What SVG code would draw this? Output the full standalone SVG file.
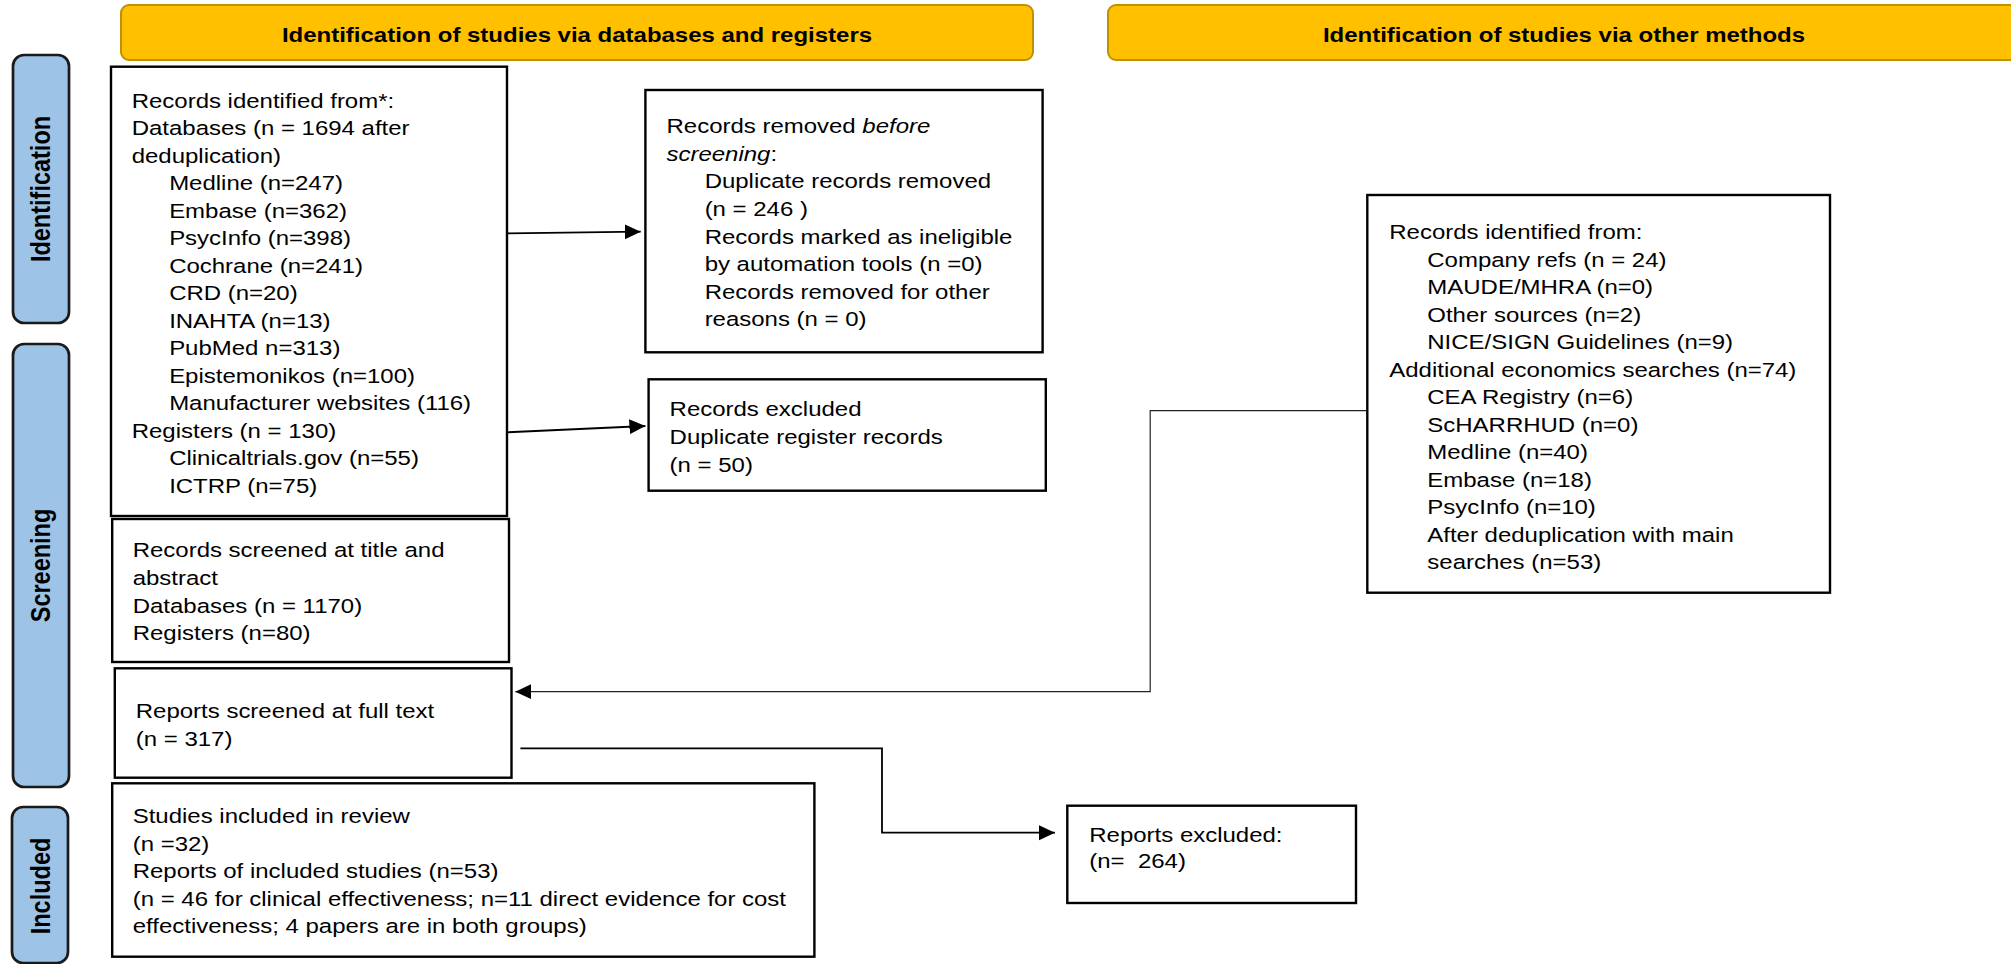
<svg xmlns="http://www.w3.org/2000/svg" width="2011" height="964" viewBox="0 0 2011 964">
<style>
.box{fill:#fff;stroke:#000;stroke-width:2.4}
.hdr{fill:#FFC000;stroke:#BF9000;stroke-width:2}
.pill{fill:#9DC3E6;stroke:#1a1a1a;stroke-width:2.7}
.t{font-family:"Liberation Sans",Arial,sans-serif;font-size:20.5px;fill:#000}
.ht{font-family:"Liberation Sans",Arial,sans-serif;font-size:20.5px;font-weight:bold;fill:#000;text-anchor:middle}
.pt{font-family:"Liberation Sans",Arial,sans-serif;font-size:23.5px;font-weight:bold;fill:#000;text-anchor:middle}
.c{fill:none;stroke:#000;stroke-width:1.8}
.ct{fill:none;stroke:#222;stroke-width:1.2}
</style>
<defs>
<marker id="ah" markerWidth="16" markerHeight="16" refX="16" refY="8" orient="auto" markerUnits="userSpaceOnUse">
<path d="M0,0.5 L16,8 L0,15.5 z" fill="#000"/>
</marker>
</defs>

<g id="header-databases">
<rect class="hdr" x="121" y="5" width="912" height="55" rx="8"/>
<text class="ht" transform="translate(577,41.5) scale(1.17,1)">Identification of studies via databases and registers</text>
</g>
<g id="header-other">
<rect class="hdr" x="1108" y="5" width="912" height="55" rx="8"/>
<text class="ht" transform="translate(1564,41.5) scale(1.17,1)">Identification of studies via other methods</text>
</g>

<g id="phase-identification">
<rect class="pill" x="13" y="55" width="56" height="268" rx="11"/>
<text class="pt" transform="translate(50,189) rotate(-90) scale(1,1.15)">Identification</text>
</g>
<g id="phase-screening">
<rect class="pill" x="13" y="344" width="56" height="443" rx="11"/>
<text class="pt" transform="translate(50,565.5) rotate(-90) scale(1,1.15)">Screening</text>
</g>
<g id="phase-included">
<rect class="pill" x="12" y="807" width="56" height="156" rx="11"/>
<text class="pt" transform="translate(50,886) rotate(-90) scale(1,1.15)">Included</text>
</g>

<g id="records-identified-db">
<rect class="box" x="111" y="66.7" width="396" height="449.3"/>
<text class="t" transform="translate(131.7,0) scale(1.17,1)">
<tspan x="0" y="107.7">Records identified from*:</tspan>
<tspan x="0" y="135.2">Databases (n = 1694 after</tspan>
<tspan x="0" y="162.7">deduplication)</tspan>
<tspan x="32" y="190.2">Medline (n=247)</tspan>
<tspan x="32" y="217.7">Embase (n=362)</tspan>
<tspan x="32" y="245.2">PsycInfo (n=398)</tspan>
<tspan x="32" y="272.7">Cochrane (n=241)</tspan>
<tspan x="32" y="300.2">CRD (n=20)</tspan>
<tspan x="32" y="327.7">INAHTA (n=13)</tspan>
<tspan x="32" y="355.2">PubMed n=313)</tspan>
<tspan x="32" y="382.7">Epistemonikos (n=100)</tspan>
<tspan x="32" y="410.2">Manufacturer websites (116)</tspan>
<tspan x="0" y="437.7">Registers (n = 130)</tspan>
<tspan x="32" y="465.2">Clinicaltrials.gov (n=55)</tspan>
<tspan x="32" y="492.7">ICTRP (n=75)</tspan>
</text>
</g>

<g id="records-removed">
<rect class="box" x="645.4" y="90" width="397.2" height="262.3"/>
<text class="t" transform="translate(666.5,0) scale(1.17,1)">
<tspan x="0" y="133.3">Records removed <tspan font-style="italic">before</tspan></tspan>
<tspan x="0" y="160.9"><tspan font-style="italic">screening</tspan>:</tspan>
<tspan x="32.6" y="188.5">Duplicate records removed</tspan>
<tspan x="32.6" y="216.1">(n = 246 )</tspan>
<tspan x="32.6" y="243.7">Records marked as ineligible</tspan>
<tspan x="32.6" y="271.3">by automation tools (n =0)</tspan>
<tspan x="32.6" y="298.9">Records removed for other</tspan>
<tspan x="32.6" y="326.5">reasons (n = 0)</tspan>
</text>
</g>

<g id="records-excluded">
<rect class="box" x="648.6" y="379.3" width="397.2" height="111.4"/>
<text class="t" transform="translate(669.6,0) scale(1.17,1)">
<tspan x="0" y="416">Records excluded</tspan>
<tspan x="0" y="444">Duplicate register records</tspan>
<tspan x="0" y="471.7">(n = 50)</tspan>
</text>
</g>

<g id="records-screened">
<rect class="box" x="112.2" y="519" width="396.8" height="143"/>
<text class="t" transform="translate(132.7,0) scale(1.17,1)">
<tspan x="0" y="557.3">Records screened at title and</tspan>
<tspan x="0" y="585">abstract</tspan>
<tspan x="0" y="612.7">Databases (n = 1170)</tspan>
<tspan x="0" y="640.2">Registers (n=80)</tspan>
</text>
</g>

<g id="reports-screened">
<rect class="box" x="114.8" y="668.3" width="396.7" height="109.4"/>
<text class="t" transform="translate(135.8,0) scale(1.17,1)">
<tspan x="0" y="718.3">Reports screened at full text</tspan>
<tspan x="0" y="746">(n = 317)</tspan>
</text>
</g>

<g id="studies-included">
<rect class="box" x="112.2" y="783.3" width="702.2" height="173.4"/>
<text class="t" transform="translate(132.7,0) scale(1.17,1)">
<tspan x="0" y="823.3">Studies included in review</tspan>
<tspan x="0" y="850.8">(n =32)</tspan>
<tspan x="0" y="878.3">Reports of included studies (n=53)</tspan>
<tspan x="0" y="905.8">(n = 46 for clinical effectiveness; n=11 direct evidence for cost</tspan>
<tspan x="0" y="933.3">effectiveness; 4 papers are in both groups)</tspan>
</text>
</g>

<g id="records-identified-other">
<rect class="box" x="1367.3" y="195" width="462.7" height="397.7"/>
<text class="t" transform="translate(1389.3,0) scale(1.17,1)">
<tspan x="0" y="239.3">Records identified from:</tspan>
<tspan x="32.5" y="266.8">Company refs (n = 24)</tspan>
<tspan x="32.5" y="294.3">MAUDE/MHRA (n=0)</tspan>
<tspan x="32.5" y="321.8">Other sources (n=2)</tspan>
<tspan x="32.5" y="349.3">NICE/SIGN Guidelines (n=9)</tspan>
<tspan x="0" y="376.8">Additional economics searches (n=74)</tspan>
<tspan x="32.5" y="404.3">CEA Registry (n=6)</tspan>
<tspan x="32.5" y="431.8">ScHARRHUD (n=0)</tspan>
<tspan x="32.5" y="459.3">Medline (n=40)</tspan>
<tspan x="32.5" y="486.8">Embase (n=18)</tspan>
<tspan x="32.5" y="514.3">PsycInfo (n=10)</tspan>
<tspan x="32.5" y="541.8">After deduplication with main</tspan>
<tspan x="32.5" y="569.3">searches (n=53)</tspan>
</text>
</g>

<g id="reports-excluded">
<rect class="box" x="1067.3" y="805.7" width="288.7" height="97.3"/>
<text class="t" transform="translate(1089.3,0) scale(1.17,1)">
<tspan x="0" y="842">Reports excluded:</tspan>
<tspan x="0" y="868" xml:space="preserve">(n=  264)</tspan>
</text>
</g>

<g id="connectors">
<line class="c" x1="507" y1="233.3" x2="640.7" y2="231.7" marker-end="url(#ah)"/>
<line class="c" x1="507" y1="432.3" x2="645.4" y2="426" marker-end="url(#ah)"/>
<polyline class="ct" points="1367,410.7 1150.2,410.7 1150.2,691.7 515.3,691.7" marker-end="url(#ah)"/>
<polyline class="c" points="520.4,748.3 882,748.3 882,832.7 1055,832.7" marker-end="url(#ah)"/>
</g>
</svg>
